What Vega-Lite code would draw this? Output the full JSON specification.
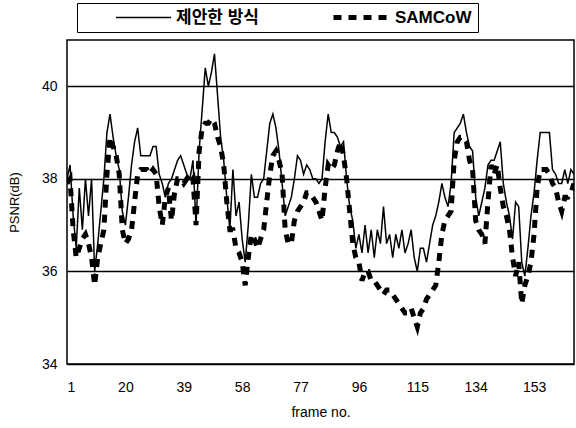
{
  "$schema": "https://vega.github.io/schema/vega-lite/v6.json",
  "width": 507,
  "height": 324,
  "autosize": {"type": "none"},
  "padding": {"left": 67, "top": 40, "right": 2, "bottom": 64},
  "background": "white",
  "config": {
    "view": {"stroke": "black", "strokeWidth": 1.5},
    "font": "Liberation Sans"
  },
  "data": {
    "values": [
      {"frame":1,"제안한 방식":38.0,"SAMCoW":37.9},{"frame":2,"제안한 방식":38.3,"SAMCoW":38.0},{"frame":3,"제안한 방식":37.2,"SAMCoW":36.9},{"frame":4,"제안한 방식":36.5,"SAMCoW":36.3},{"frame":5,"제안한 방식":37.8,"SAMCoW":36.5},{"frame":6,"제안한 방식":36.9,"SAMCoW":36.7},{"frame":7,"제안한 방식":38.0,"SAMCoW":36.8},{"frame":8,"제안한 방식":37.2,"SAMCoW":36.6},{"frame":9,"제안한 방식":38.0,"SAMCoW":36.3},{"frame":10,"제안한 방식":36.0,"SAMCoW":35.7},
      {"frame":11,"제안한 방식":36.6,"SAMCoW":36.3},{"frame":12,"제안한 방식":37.3,"SAMCoW":36.6},{"frame":13,"제안한 방식":38.0,"SAMCoW":36.9},{"frame":14,"제안한 방식":39.0,"SAMCoW":38.1},{"frame":15,"제안한 방식":39.4,"SAMCoW":38.9},{"frame":16,"제안한 방식":38.9,"SAMCoW":38.7},{"frame":17,"제안한 방식":38.5,"SAMCoW":38.5},{"frame":18,"제안한 방식":38.2,"SAMCoW":38.1},{"frame":19,"제안한 방식":37.3,"SAMCoW":36.9},{"frame":20,"제안한 방식":37.0,"SAMCoW":36.6},
      {"frame":21,"제안한 방식":37.6,"SAMCoW":36.7},{"frame":22,"제안한 방식":38.3,"SAMCoW":36.9},{"frame":23,"제안한 방식":38.8,"SAMCoW":37.5},{"frame":24,"제안한 방식":39.1,"SAMCoW":38.1},{"frame":25,"제안한 방식":38.5,"SAMCoW":38.2},{"frame":26,"제안한 방식":38.5,"SAMCoW":38.2},{"frame":27,"제안한 방식":38.5,"SAMCoW":38.2},{"frame":28,"제안한 방식":38.5,"SAMCoW":38.1},{"frame":29,"제안한 방식":38.7,"SAMCoW":38.2},{"frame":30,"제안한 방식":38.7,"SAMCoW":38.1},
      {"frame":31,"제안한 방식":38.1,"SAMCoW":37.4},{"frame":32,"제안한 방식":37.9,"SAMCoW":37.0},{"frame":33,"제안한 방식":37.6,"SAMCoW":37.6},{"frame":34,"제안한 방식":37.9,"SAMCoW":37.8},{"frame":35,"제안한 방식":38.0,"SAMCoW":37.1},{"frame":36,"제안한 방식":38.2,"SAMCoW":37.7},{"frame":37,"제안한 방식":38.4,"SAMCoW":38.0},{"frame":38,"제안한 방식":38.5,"SAMCoW":38.0},{"frame":39,"제안한 방식":38.3,"SAMCoW":37.9},{"frame":40,"제안한 방식":38.1,"SAMCoW":38.0},
      {"frame":41,"제안한 방식":38.0,"SAMCoW":37.9},{"frame":42,"제안한 방식":38.4,"SAMCoW":38.0},{"frame":43,"제안한 방식":37.0,"SAMCoW":37.0},{"frame":44,"제안한 방식":38.6,"SAMCoW":38.6},{"frame":45,"제안한 방식":39.5,"SAMCoW":39.1},{"frame":46,"제안한 방식":40.4,"SAMCoW":39.2},{"frame":47,"제안한 방식":40.0,"SAMCoW":39.2},{"frame":48,"제안한 방식":40.3,"SAMCoW":39.3},{"frame":49,"제안한 방식":40.7,"SAMCoW":39.2},{"frame":50,"제안한 방식":39.8,"SAMCoW":38.9},
      {"frame":51,"제안한 방식":38.9,"SAMCoW":38.7},{"frame":52,"제안한 방식":38.4,"SAMCoW":38.3},{"frame":53,"제안한 방식":37.6,"SAMCoW":37.5},{"frame":54,"제안한 방식":36.9,"SAMCoW":36.9},{"frame":55,"제안한 방식":38.2,"SAMCoW":36.9},{"frame":56,"제안한 방식":37.2,"SAMCoW":36.5},{"frame":57,"제안한 방식":37.5,"SAMCoW":36.4},{"frame":58,"제안한 방식":36.7,"SAMCoW":36.2},{"frame":59,"제안한 방식":36.2,"SAMCoW":35.7},{"frame":60,"제안한 방식":37.0,"SAMCoW":36.3},
      {"frame":61,"제안한 방식":38.1,"SAMCoW":36.8},{"frame":62,"제안한 방식":37.6,"SAMCoW":36.7},{"frame":63,"제안한 방식":37.6,"SAMCoW":36.5},{"frame":64,"제안한 방식":37.9,"SAMCoW":36.7},{"frame":65,"제안한 방식":38.0,"SAMCoW":36.9},{"frame":66,"제안한 방식":38.6,"SAMCoW":37.5},{"frame":67,"제안한 방식":39.2,"SAMCoW":38.1},{"frame":68,"제안한 방식":39.4,"SAMCoW":38.5},{"frame":69,"제안한 방식":39.1,"SAMCoW":38.6},{"frame":70,"제안한 방식":38.6,"SAMCoW":38.4},
      {"frame":71,"제안한 방식":37.9,"SAMCoW":38.1},{"frame":72,"제안한 방식":37.2,"SAMCoW":36.9},{"frame":73,"제안한 방식":37.4,"SAMCoW":36.6},{"frame":74,"제안한 방식":37.6,"SAMCoW":36.6},{"frame":75,"제안한 방식":38.0,"SAMCoW":37.1},{"frame":76,"제안한 방식":38.5,"SAMCoW":37.3},{"frame":77,"제안한 방식":38.4,"SAMCoW":37.4},{"frame":78,"제안한 방식":38.1,"SAMCoW":37.5},{"frame":79,"제안한 방식":38.3,"SAMCoW":37.7},{"frame":80,"제안한 방식":38.2,"SAMCoW":37.7},
      {"frame":81,"제안한 방식":38.0,"SAMCoW":37.6},{"frame":82,"제안한 방식":38.0,"SAMCoW":37.5},{"frame":83,"제안한 방식":37.9,"SAMCoW":37.3},{"frame":84,"제안한 방식":38.0,"SAMCoW":37.1},{"frame":85,"제안한 방식":38.8,"SAMCoW":37.8},{"frame":86,"제안한 방식":39.4,"SAMCoW":38.3},{"frame":87,"제안한 방식":39.0,"SAMCoW":38.2},{"frame":88,"제안한 방식":39.0,"SAMCoW":38.3},{"frame":89,"제안한 방식":38.9,"SAMCoW":38.6},{"frame":90,"제안한 방식":38.7,"SAMCoW":38.8},
      {"frame":91,"제안한 방식":38.8,"SAMCoW":38.5},{"frame":92,"제안한 방식":38.0,"SAMCoW":38.0},{"frame":93,"제안한 방식":37.4,"SAMCoW":37.3},{"frame":94,"제안한 방식":37.1,"SAMCoW":36.6},{"frame":95,"제안한 방식":36.5,"SAMCoW":36.3},{"frame":96,"제안한 방식":36.8,"SAMCoW":36.2},{"frame":97,"제안한 방식":36.4,"SAMCoW":35.8},{"frame":98,"제안한 방식":37.0,"SAMCoW":36.0},{"frame":99,"제안한 방식":36.4,"SAMCoW":36.0},{"frame":100,"제안한 방식":36.9,"SAMCoW":35.8},
      {"frame":101,"제안한 방식":36.3,"SAMCoW":35.8},{"frame":102,"제안한 방식":36.9,"SAMCoW":35.7},{"frame":103,"제안한 방식":36.6,"SAMCoW":35.6},{"frame":104,"제안한 방식":37.4,"SAMCoW":35.5},{"frame":105,"제안한 방식":36.6,"SAMCoW":35.6},{"frame":106,"제안한 방식":36.8,"SAMCoW":35.6},{"frame":107,"제안한 방식":36.3,"SAMCoW":35.5},{"frame":108,"제안한 방식":36.8,"SAMCoW":35.4},{"frame":109,"제안한 방식":36.5,"SAMCoW":35.3},{"frame":110,"제안한 방식":36.9,"SAMCoW":35.2},
      {"frame":111,"제안한 방식":36.4,"SAMCoW":35.1},{"frame":112,"제안한 방식":36.6,"SAMCoW":35.1},{"frame":113,"제안한 방식":36.9,"SAMCoW":35.2},{"frame":114,"제안한 방식":36.3,"SAMCoW":35.0},{"frame":115,"제안한 방식":36.0,"SAMCoW":34.8},{"frame":116,"제안한 방식":36.5,"SAMCoW":35.1},{"frame":117,"제안한 방식":36.5,"SAMCoW":35.2},{"frame":118,"제안한 방식":36.2,"SAMCoW":35.4},{"frame":119,"제안한 방식":36.6,"SAMCoW":35.5},{"frame":120,"제안한 방식":37.0,"SAMCoW":35.6},
      {"frame":121,"제안한 방식":37.2,"SAMCoW":35.7},{"frame":122,"제안한 방식":37.5,"SAMCoW":36.2},{"frame":123,"제안한 방식":37.9,"SAMCoW":36.8},{"frame":124,"제안한 방식":37.6,"SAMCoW":37.1},{"frame":125,"제안한 방식":37.4,"SAMCoW":37.2},{"frame":126,"제안한 방식":37.9,"SAMCoW":37.3},{"frame":127,"제안한 방식":39.0,"SAMCoW":38.4},{"frame":128,"제안한 방식":39.1,"SAMCoW":38.8},{"frame":129,"제안한 방식":39.2,"SAMCoW":38.9},{"frame":130,"제안한 방식":39.4,"SAMCoW":38.9},
      {"frame":131,"제안한 방식":39.0,"SAMCoW":38.8},{"frame":132,"제안한 방식":38.7,"SAMCoW":38.4},{"frame":133,"제안한 방식":38.6,"SAMCoW":38.2},{"frame":134,"제안한 방식":37.6,"SAMCoW":37.1},{"frame":135,"제안한 방식":37.2,"SAMCoW":36.9},{"frame":136,"제안한 방식":37.5,"SAMCoW":36.8},{"frame":137,"제안한 방식":37.8,"SAMCoW":36.6},{"frame":138,"제안한 방식":38.3,"SAMCoW":37.5},{"frame":139,"제안한 방식":38.4,"SAMCoW":38.3},{"frame":140,"제안한 방식":38.4,"SAMCoW":38.1},
      {"frame":141,"제안한 방식":38.6,"SAMCoW":38.3},{"frame":142,"제안한 방식":38.8,"SAMCoW":37.8},{"frame":143,"제안한 방식":37.9,"SAMCoW":37.4},{"frame":144,"제안한 방식":37.5,"SAMCoW":37.2},{"frame":145,"제안한 방식":37.2,"SAMCoW":36.9},{"frame":146,"제안한 방식":36.7,"SAMCoW":36.3},{"frame":147,"제안한 방식":37.5,"SAMCoW":35.9},{"frame":148,"제안한 방식":37.4,"SAMCoW":36.2},{"frame":149,"제안한 방식":36.2,"SAMCoW":35.3},{"frame":150,"제안한 방식":35.9,"SAMCoW":35.7},
      {"frame":151,"제안한 방식":36.5,"SAMCoW":35.9},{"frame":152,"제안한 방식":37.2,"SAMCoW":36.2},{"frame":153,"제안한 방식":37.7,"SAMCoW":36.8},{"frame":154,"제안한 방식":38.4,"SAMCoW":37.8},{"frame":155,"제안한 방식":39.0,"SAMCoW":38.2},{"frame":156,"제안한 방식":39.0,"SAMCoW":38.2},{"frame":157,"제안한 방식":39.0,"SAMCoW":38.2},{"frame":158,"제안한 방식":39.0,"SAMCoW":38.1},{"frame":159,"제안한 방식":38.2,"SAMCoW":37.9},{"frame":160,"제안한 방식":38.1,"SAMCoW":37.8},
      {"frame":161,"제안한 방식":37.9,"SAMCoW":37.5},{"frame":162,"제안한 방식":37.9,"SAMCoW":37.3},{"frame":163,"제안한 방식":38.2,"SAMCoW":37.6},{"frame":164,"제안한 방식":37.9,"SAMCoW":37.6},{"frame":165,"제안한 방식":38.2,"SAMCoW":37.7},{"frame":166,"제안한 방식":38.1,"SAMCoW":37.9}
    ]
  },
  "transform": [{"fold": ["제안한 방식", "SAMCoW"], "as": ["method", "psnr"]}],
  "mark": {"type": "line", "color": "black", "clip": true},
  "encoding": {
    "x": {
      "field": "frame", "type": "quantitative",
      "scale": {"domain": [1, 166], "nice": false, "zero": false},
      "axis": {
        "values": [1, 20, 39, 58, 77, 96, 115, 134, 153],
        "grid": false, "domain": false, "ticks": false,
        "labelFont": "Liberation Sans", "labelFontSize": 14, "labelColor": "black", "labelPadding": 16,
        "title": "frame no.", "titleFont": "Liberation Sans", "titleFontSize": 14, "titleFontWeight": "normal", "titleColor": "black", "titlePadding": 11
      }
    },
    "y": {
      "field": "psnr", "type": "quantitative",
      "scale": {"domain": [34, 41], "nice": false, "zero": false},
      "axis": {
        "values": [34, 36, 38, 40],
        "grid": true, "gridColor": "black", "gridWidth": 1.5, "gridOpacity": 1,
        "domain": false, "ticks": false,
        "labelFont": "Liberation Sans", "labelFontSize": 14, "labelColor": "black", "labelPadding": 10,
        "title": "PSNR(dB)", "titleFont": "Liberation Sans", "titleFontSize": 13, "titleFontWeight": "normal", "titleColor": "black", "titlePadding": 20
      }
    },
    "strokeDash": {
      "field": "method", "type": "nominal",
      "scale": {"domain": ["제안한 방식", "SAMCoW"], "range": [[1, 0], [8, 7]]},
      "legend": {
        "title": null, "orient": "none", "legendX": 10, "legendY": -37,
        "direction": "horizontal",
        "strokeColor": "black", "fillColor": "white", "padding": 6,
        "symbolType": "stroke", "symbolSize": 3025, "symbolStrokeColor": "black",
        "clipHeight": 17, "symbolOffset": 32,
        "labelFont": "Liberation Sans, Noto Sans CJK KR", "labelFontSize": 17, "labelFontWeight": "bold", "labelColor": "black",
        "labelOffset": 4, "columnPadding": 40
      }
    },
    "strokeWidth": {
      "field": "method", "type": "nominal",
      "scale": {"domain": ["제안한 방식", "SAMCoW"], "range": [1.5, 5]},
      "legend": null
    }
  }
}
